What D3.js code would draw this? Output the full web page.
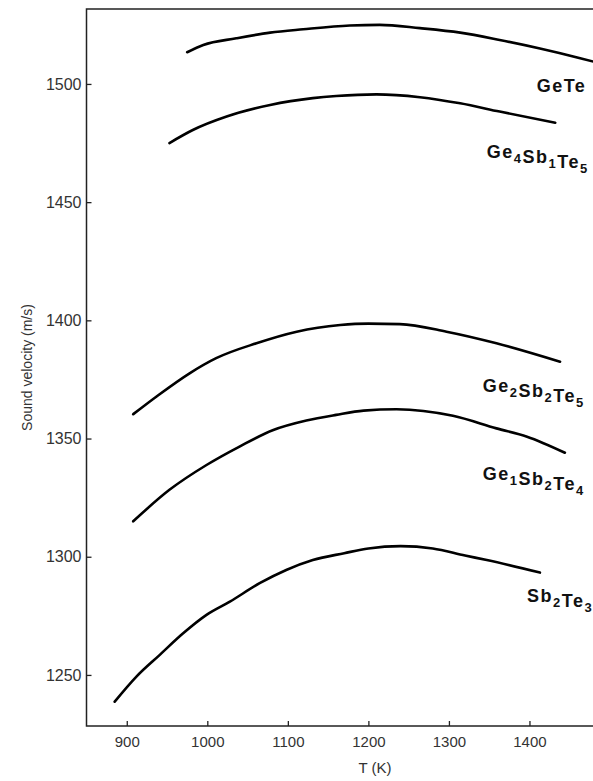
<!DOCTYPE html>
<html>
<head>
<meta charset="utf-8">
<script src="https://cdn.jsdelivr.net/npm/d3@7"></script>
<style>
  body { margin: 0; background: #fff; }
  svg { display: block; font-family: Arial, "Liberation Sans", sans-serif; }
  .axis text { fill: #333; }
  .axis--x text { font-size: 15px; }
  .axis--y text { font-size: 16px; }
  .axis path, .axis line { stroke: #222; stroke-width: 1.3px; }
  .curve { fill: none; stroke: #000; stroke-width: 2.6px; stroke-linejoin: round; stroke-linecap: round; }
  .lbl { font-size: 18px; font-weight: bold; fill: #111; letter-spacing: 1.5px; }
</style>
</head>
<body>
<svg id="chart" width="593" height="781"></svg>
<script>
// tick labels
var xTicks = [900, 1000, 1100, 1200, 1300, 1400];
var yTicks = [1250, 1300, 1350, 1400, 1450, 1500];

// series: temperature (K) and sound velocity (m/s)
var geteT = [975, 995, 1036, 1078, 1119, 1177, 1214, 1264, 1314, 1363, 1413, 1463, 1490];
var geteV = [1513.4, 1516.5, 1519.3, 1521.7, 1523.1, 1524.7, 1525, 1523.6, 1521.7, 1518.6, 1515, 1510.9, 1508.5];

var ge4T = [953, 982, 1024, 1078, 1131, 1160, 1210, 1264, 1314, 1363, 1432];
var ge4V = [1475, 1480.5, 1486.2, 1491.1, 1494, 1494.9, 1495.6, 1494.4, 1491.8, 1488.3, 1483.6];

var ge2T = [908, 937, 978, 1011, 1061, 1111, 1165, 1200, 1239, 1297, 1359, 1438];
var ge2V = [1360.3, 1367.8, 1377.6, 1384, 1390.3, 1395.2, 1398, 1398.6, 1398.4, 1395.2, 1390.3, 1382.5];

var ge1T = [908, 953, 999, 1040, 1082, 1123, 1160, 1194, 1235, 1305, 1359, 1397, 1444];
var ge1V = [1315, 1328.3, 1338.8, 1346.6, 1353.6, 1357.6, 1360, 1361.8, 1362.4, 1359.6, 1354.3, 1350.8, 1344];

var sbT = [885, 912, 941, 970, 999, 1028, 1065, 1098, 1131, 1170, 1200, 1240, 1280, 1320, 1347, 1413];
var sbV = [1238.7, 1249.3, 1258.5, 1267.6, 1275.4, 1281, 1288.8, 1294.4, 1298.6, 1301.5, 1303.5, 1304.5, 1303.5, 1300.5, 1298.6, 1293.3];

var svg = d3.select("svg");

var x = d3.scaleLinear().domain([850, 1500]).range([86.5, 610]),
  y = d3.scaleLinear().domain([1228.4, 1531.7]).range([726, 9]);

// frame (right side runs past the page edge)
svg.append("rect")
  .attr("x", x(850))
  .attr("y", y(1531.7))
  .attr("width", x(1500) - x(850))
  .attr("height", y(1228.4) - y(1531.7))
  .attr("fill", "none")
  .attr("stroke", "#222")
  .attr("stroke-width", 1.5);

svg.append("g")
  .attr("class", "axis axis--x")
  .attr("transform", "translate(0," + y(1228.4) + ")")
  .call(d3.axisBottom(x).tickValues(xTicks).tickFormat(d3.format("d"))
    .tickSizeInner(-5).tickSizeOuter(0).tickPadding(10))
  .call(function (g) { g.select(".domain").remove(); });

svg.append("g")
  .attr("class", "axis axis--y")
  .attr("transform", "translate(" + x(850) + ",0)")
  .call(d3.axisLeft(y).tickValues(yTicks).tickFormat(d3.format("d"))
    .tickSizeInner(-5).tickSizeOuter(0).tickPadding(5))
  .call(function (g) { g.select(".domain").remove(); });

svg.append("text")
  .attr("x", 375)
  .attr("y", 773)
  .attr("text-anchor", "middle")
  .style("font-size", "15px")
  .style("fill", "#333")
  .text("T (K)");

svg.append("text")
  .attr("transform", "translate(32," + (y(1228.4) + y(1531.7)) / 2 + ") rotate(-90)")
  .attr("text-anchor", "middle")
  .style("font-size", "14px")
  .style("fill", "#333")
  .text("Sound velocity (m/s)");

var line = d3.line()
  .x(function (d) { return x(d[0]); })
  .y(function (d) { return y(d[1]); })
  .curve(d3.curveMonotoneX);

var series = [
  { t: geteT, v: geteV },
  { t: ge4T, v: ge4V },
  { t: ge2T, v: ge2V },
  { t: ge1T, v: ge1V },
  { t: sbT, v: sbV }
];

var plot = svg.append("g");
plot.append("clipPath").attr("id", "clip")
  .append("rect")
  .attr("x", x(850)).attr("y", y(1531.7))
  .attr("width", x(1500) - x(850)).attr("height", y(1228.4) - y(1531.7));

plot.attr("clip-path", "url(#clip)")
  .selectAll(".curve")
  .data(series)
  .enter()
  .append("path")
  .attr("class", "curve")
  .attr("d", function (s) { return line(d3.zip(s.t, s.v)); });

// labels: [text, subscript] parts, anchored at (T, v)
var labels = [
  { parts: [["GeTe", ""]], t: 1409, v: 1496.7 },
  { parts: [["Ge", "4"], ["Sb", "1"], ["Te", "5"]], t: 1347, v: 1468.7 },
  { parts: [["Ge", "2"], ["Sb", "2"], ["Te", "5"]], t: 1342, v: 1369.8 },
  { parts: [["Ge", "1"], ["Sb", "2"], ["Te", "4"]], t: 1342, v: 1332.5 },
  { parts: [["Sb", "2"], ["Te", "3"]], t: 1397, v: 1281 }
];

labels.forEach(function (l) {
  var txt = svg.append("text")
    .attr("class", "lbl")
    .attr("x", x(l.t))
    .attr("y", y(l.v));
  l.parts.forEach(function (p) {
    txt.append("tspan").text(p[0]);
    if (p[1]) {
      txt.append("tspan")
        .attr("dy", 5)
        .style("font-size", "13px")
        .text(p[1]);
      txt.append("tspan").attr("dy", -5).text("");
    }
  });
});
</script>
</body>
</html>
